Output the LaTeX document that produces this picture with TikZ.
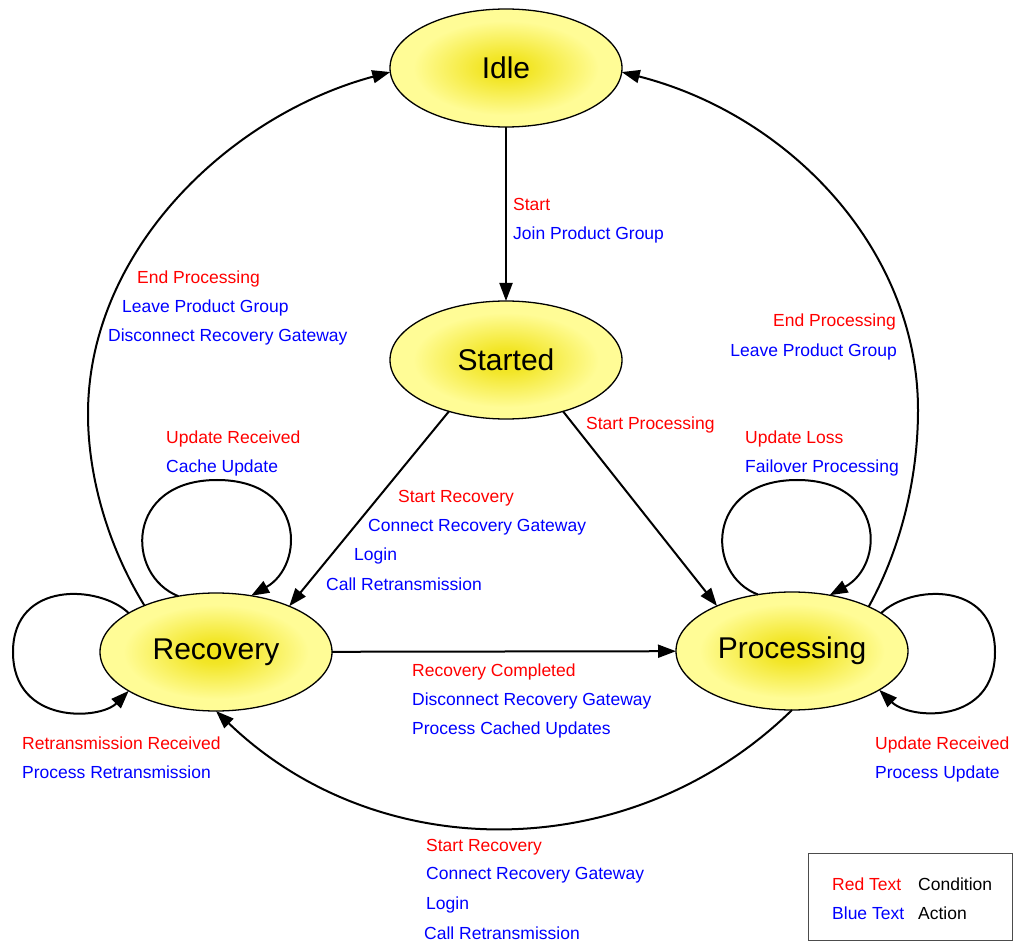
\documentclass[tikz,border=0pt]{standalone}
\usepackage{fontspec}
\setmainfont{Liberation Sans}
\usetikzlibrary{shapes.geometric,arrows.meta}
\definecolor{stateinner}{RGB}{240,226,20}
\definecolor{stateouter}{RGB}{255,252,150}
\pgfdeclareradialshading{stateshade}{\pgfpoint{0bp}{0bp}}{%
    color(0bp)=(stateinner); color(5bp)=(stateinner!85!stateouter);
    color(20bp)=(stateouter); color(50bp)=(stateouter)}

\begin{document}
\begin{tikzpicture}[x=1pt, y=-1pt,
    state/.style={ellipse, draw, line width=1.3pt, inner sep=0pt, outer sep=0pt,
        minimum width=232pt, minimum height=118pt, shading=stateshade,
        font=\fontsize{30}{32}\selectfont},
    trans/.style={line width=2pt, -{Triangle[length=18pt, width=13pt]}},
    cond/.style={text=red, inner sep=0pt, anchor=west, text height=12pt, text depth=0pt,
        font=\fontsize{17.5}{20}\selectfont},
    act/.style={cond, text=blue},
    legendtxt/.style={cond, text=black}]
    \useasboundingbox (0,0) rectangle (1013,941);

    % States
    \node[state] (idle) at (506,68) {Idle};
    \node[state] (started) at (506,360) {Started};
    \node[state] (recovery) at (216,652) {Recovery};
    \node[state] (processing) at (792,651) {Processing};

    % Transitions
    \draw[trans] (idle) -- (started);
    \draw[trans] (started.222) -- (recovery.32);
    \draw[trans] (started.318) -- (processing.149);
    \draw[trans] (recovery) -- (processing);
    \draw[trans] (processing.270) .. controls (631,867) and (378,867) .. (recovery.270);
    \draw[trans] (recovery.147) .. controls (110,550) and (88,480) .. (88,414)
        .. controls (88,250) and (230,115) .. (idle.182);
    \draw[trans] (processing.30) .. controls (900,550) and (918,480) .. (918,410)
        .. controls (918,250) and (790,115) .. (idle.358);

    % Self loops
    \draw[trans] (recovery.124) .. controls (125,575) and (125,480) .. (217,480)
        .. controls (305,480) and (305,565) .. (recovery.58);
    \draw[trans] (processing.121) .. controls (705,575) and (705,480) .. (797,480)
        .. controls (885,480) and (885,565) .. (processing.56);
    \draw[trans] (recovery.156) .. controls (100,585) and (13,580) .. (13,652)
        .. controls (13,725) and (100,720) .. (recovery.204);
    \draw[trans] (processing.23) .. controls (910,585) and (995,580) .. (995,652)
        .. controls (995,725) and (910,720) .. (processing.336);

    % Labels
    \node[cond] (startC) at (513,205) {Start};
    \node[act] (joinA) at (513,234) {Join Product Group};

    \node[cond] (endL) at (137,278) {End Processing};
    \node[act] (leaveL) at (122,307) {Leave Product Group};
    \node[act] (discL) at (108,336) {Disconnect Recovery Gateway};

    \node[cond, anchor=east] (endR) at (896,321) {End Processing};
    \node[act, anchor=east] (leaveR) at (897,351) {Leave Product Group};

    \node[cond] (startProc) at (586,424) {Start Processing};

    \node[cond] (updRec) at (166,438) {Update Received};
    \node[act] (cacheUpd) at (166,466) {Cache Update};

    \node[cond] (updLoss) at (745,438) {Update Loss};
    \node[act] (failover) at (745,466) {Failover Processing};

    \node[cond] (startRecA) at (398,496) {Start Recovery};
    \node[act] (connA) at (368,525) {Connect Recovery Gateway};
    \node[act] (loginA) at (354,554) {Login};
    \node[act] (callA) at (326,584) {Call Retransmission};

    \node[cond] (recDone) at (412,670) {Recovery Completed};
    \node[act] (discM) at (412,699) {Disconnect Recovery Gateway};
    \node[act] (procCached) at (412,728) {Process Cached Updates};

    \node[cond] (retrRec) at (22,743) {Retransmission Received};
    \node[act] (procRetr) at (22,772) {Process Retransmission};

    \node[cond] (updRecP) at (875,743) {Update Received};
    \node[act] (procUpd) at (875,772) {Process Update};

    \node[cond] (startRecB) at (426,845) {Start Recovery};
    \node[act] (connB) at (426,873) {Connect Recovery Gateway};
    \node[act] (loginB) at (426,903) {Login};
    \node[act] (callB) at (424,933) {Call Retransmission};

    % Legend
    \node[draw=black!70, line width=1pt, inner sep=0pt, minimum width=204pt,
        minimum height=87pt] (legend) at (910.3,897) {};
    \node[cond] (redTxt) at (832,884) {Red Text};
    \node[legendtxt] (condTxt) at (918,884) {Condition};
    \node[act] (blueTxt) at (832,913) {Blue Text};
    \node[legendtxt] (actTxt) at (918,913) {Action};
\end{tikzpicture}
\end{document}
